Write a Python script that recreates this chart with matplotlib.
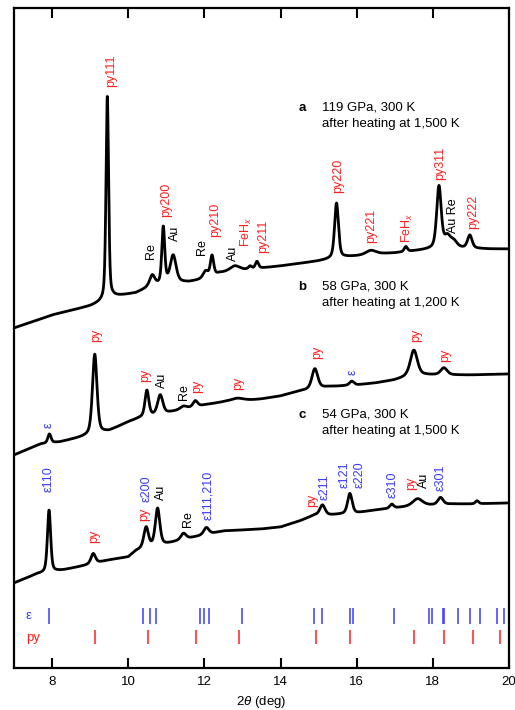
import numpy as np
import matplotlib
matplotlib.use("Agg")
import matplotlib.pyplot as plt

plt.rcParams['font.family'] = ['Liberation Sans', 'DejaVu Sans']
plt.rcParams['mathtext.fontset'] = 'custom'
plt.rcParams['mathtext.it'] = 'Liberation Sans:italic'
plt.rcParams['mathtext.rm'] = 'Liberation Sans'

RED = '#ff1f1f'
BLUE = '#3a3aff'

# background anchors (2theta, stacked intensity) for the three patterns
bg_a_x = [7.0, 8.0, 9.0, 9.3, 9.6, 10.2, 10.5, 11.0, 11.6, 12.0, 12.4, 12.8, 13.3, 14.0,
          15.0, 15.3, 15.7, 16.0, 16.5, 17.0, 17.5, 18.0, 18.6, 19.5, 20.0]
bg_a_y = [340, 353, 362, 366, 371, 375, 380, 385, 386, 389, 395, 397, 399, 402,
          407, 409, 411, 412, 414, 415, 417, 419, 420, 419, 419]
bg_b_x = [7.0, 7.7, 8.2, 8.8, 9.5, 10.0, 10.3, 11.0, 11.5, 12.0, 12.5, 13.0, 13.5, 14.0,
          14.5, 15.2, 16.0, 16.5, 17.0, 17.3, 17.8, 18.6, 19.0, 20.0]
bg_b_y = [213, 224, 226, 231, 237, 246, 250, 255, 259, 263, 266, 267, 269, 272,
          277, 281, 283, 285, 288, 291, 293, 293, 293, 294]
bg_c_x = [7.0, 7.6, 8.3, 8.8, 9.5, 10.0, 10.2, 10.4, 11.0, 11.5, 12.0, 12.5, 13.0, 13.5,
          14.0, 14.5, 14.9, 15.3, 16.0, 16.5, 17.0, 17.5, 18.0, 18.5, 19.0, 20.0]
bg_c_y = [85, 94, 98, 102, 108, 111, 117, 120, 124, 129, 133, 137, 138, 139,
          141, 147, 153, 153, 155, 158, 160, 162, 163, 164, 164, 165]

# peaks: position (deg), height, half width (deg)
pk_a_pos = [9.45, 10.63, 10.92, 11.18, 12.03, 12.20, 12.80, 13.20, 13.38, 15.47, 16.37,
            17.29, 18.16, 18.38, 18.55, 18.97]
pk_a_h = [203, 11, 56, 27, 7, 20, 5, 3, 7, 55, 4, 5, 62, 11, 6, 13]
pk_a_w = [0.04, 0.08, 0.045, 0.09, 0.08, 0.05, 0.15, 0.05, 0.05, 0.06, 0.15, 0.05,
          0.07, 0.1, 0.1, 0.07]
pk_b_pos = [7.93, 9.12, 10.49, 10.84, 11.45, 11.76, 12.87, 14.90, 15.87, 17.50, 18.29]
pk_b_h = [9, 80, 26, 19, 3, 6, 3, 20, 4, 26, 7]
pk_b_w = [0.05, 0.07, 0.06, 0.08, 0.1, 0.07, 0.2, 0.09, 0.07, 0.11, 0.1]
pk_c_pos = [7.92, 9.08, 10.47, 10.77, 11.45, 12.05, 15.10, 15.82, 16.92, 17.60, 18.20, 19.16]
pk_c_h = [62, 10, 20, 37, 6, 7, 10, 20, 4, 7, 7, 3]
pk_c_w = [0.05, 0.07, 0.07, 0.07, 0.08, 0.08, 0.08, 0.07, 0.06, 0.15, 0.08, 0.05]

# peak labels: text, 2theta, bottom of label, colour
lab_a = [('py111', 9.54, 581, RED), ('Re', 10.61, 409, 'k'), ('py200', 11.0, 451, RED),
         ('Au', 11.24, 427, 'k'), ('Re', 11.95, 413, 'k'), ('py210', 12.29, 431, RED),
         ('Au', 12.74, 407, 'k'), ('FeH$_x$', 13.11, 421, RED), ('py211', 13.55, 415, RED),
         ('py220', 15.5, 475, RED), ('py221', 16.39, 425, RED), ('FeH$_x$', 17.34, 425, RED),
         ('py311', 18.18, 488, RED), ('Au Re', 18.53, 435, 'k'), ('py222', 19.05, 439, RED)]
lab_b = [('ε', 7.92, 240, BLUE), ('py', 9.16, 326, RED), ('py', 10.45, 286, RED),
         ('Au', 10.89, 280, 'k'), ('Re', 11.47, 268, 'k'), ('py', 11.82, 275, RED),
         ('py', 12.89, 278, RED), ('py', 14.95, 309, RED), ('ε', 15.89, 293, BLUE),
         ('py', 17.55, 326, RED), ('py', 18.32, 306, RED)]
lab_c = [('ε110', 7.92, 176, BLUE), ('py', 9.11, 125, RED), ('py', 10.42, 147, RED),
         ('ε200', 10.47, 166, BLUE), ('Au', 10.87, 168, 'k'), ('Re', 11.58, 141, 'k'),
         ('ε111,210', 12.11, 148, BLUE), ('py', 14.84, 161, RED), ('ε211', 15.16, 168, BLUE),
         ('ε121', 15.68, 180, BLUE), ('ε220', 16.08, 180, BLUE), ('ε310', 16.95, 170, BLUE),
         ('py', 17.42, 178, RED), ('Au', 17.76, 180, 'k'), ('ε301', 18.21, 177, BLUE)]

# reference reflection positions
eps_ref = [7.93, 10.39, 10.56, 10.74, 11.88, 12.0, 12.12, 13.0, 14.89, 15.1, 15.82, 15.91,
           16.98, 17.89, 17.99, 18.26, 18.29, 18.65, 18.97, 19.23, 19.68, 19.88]
py_ref = [9.12, 10.53, 11.79, 12.91, 14.92, 15.82, 17.51, 18.29, 19.05, 19.77]

panels = [('a', '119 GPa, 300 K', 'after heating at 1,500 K', 560),
          ('b', '58 GPa, 300 K', 'after heating at 1,200 K', 381),
          ('c', '54 GPa, 300 K', 'after heating at 1,500 K', 253)]


def profile(x, bx, by, pos, h, w, eta=0.45):
    y = np.interp(x, bx, by)
    for p, a, g in zip(pos, h, w):
        lor = 1.0 / (1.0 + ((x - p) / g) ** 2)
        gau = np.exp(-np.log(2) * ((x - p) / g) ** 2)
        y = y + a * (eta * lor + (1 - eta) * gau)
    return y


fig = plt.figure(figsize=(5.15, 7.10), dpi=100)
ax = fig.add_axes([0.0272, 0.0592, 0.9612, 0.9296])

x = np.linspace(7, 20, 3000)
for bx, by, pos, h, w in [(bg_a_x, bg_a_y, pk_a_pos, pk_a_h, pk_a_w),
                          (bg_b_x, bg_b_y, pk_b_pos, pk_b_h, pk_b_w),
                          (bg_c_x, bg_c_y, pk_c_pos, pk_c_h, pk_c_w)]:
    ax.plot(x, profile(x, bx, by, pos, h, w), color='black', linewidth=2.0,
            solid_joinstyle='round')

for labs in (lab_a, lab_b, lab_c):
    for t, xp, yp, c in labs:
        ax.text(xp, yp, t, rotation=90, ha='center', va='bottom', color=c, fontsize=9)

for letter, l1, l2, yp in panels:
    ax.text(14.58, yp, letter, fontweight='bold', fontsize=9.5, va='center', ha='center')
    ax.text(15.1, yp, l1, fontsize=9.5, va='center')
    ax.text(15.1, yp - 16, l2, fontsize=9.5, va='center')

ax.vlines(eps_ref, 44, 60, color=BLUE, linewidth=1.1)
ax.vlines(py_ref, 24, 38, color=RED, linewidth=1.1)
ax.text(7.39, 52, 'ε', color=BLUE, fontsize=9.5, ha='center', va='center')
ax.text(7.5, 30, 'py', color=RED, fontsize=9.5, ha='center', va='center')

ax.set_xlim(7, 20)
ax.set_ylim(0, 660)
ax.set_xticks([8, 10, 12, 14, 16, 18, 20])
ax.set_yticks([])
ax.tick_params(axis='x', direction='in', top=True, length=7, width=1.5,
               labelsize=9.5, pad=6)
for s in ax.spines.values():
    s.set_linewidth(1.6)
ax.set_xlabel(r'2$\theta$ (deg)', fontsize=9.5, labelpad=4)

fig.savefig('out.png', dpi=100)
